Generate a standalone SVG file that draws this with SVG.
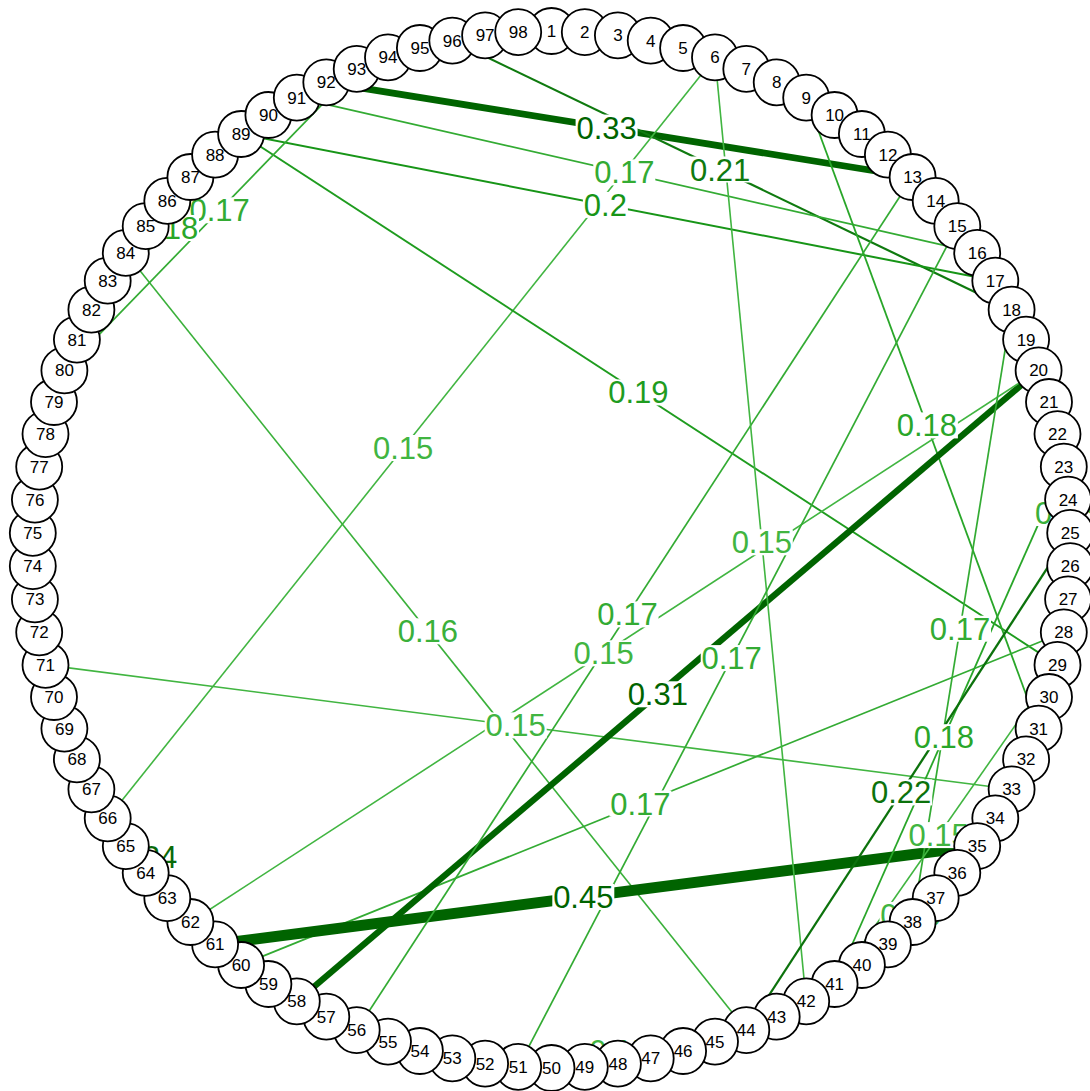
<svg xmlns="http://www.w3.org/2000/svg" width="1090" height="1091" viewBox="0 0 1090 1091">
<style>
.bg{fill:#fff}
#edges line{fill:none;stroke-linecap:butt}
.w15{stroke:#41b541;stroke-width:1.6}
.w16{stroke:#3ab03a;stroke-width:1.6}
.w17{stroke:#33ab33;stroke-width:1.7}
.w18{stroke:#29a629;stroke-width:1.8}
.w19{stroke:#1f9c1f;stroke-width:1.9}
.w20{stroke:#179517;stroke-width:2}
.w21{stroke:#0f7a0f;stroke-width:2.2}
.w22{stroke:#0c720c;stroke-width:2.3}
.w24{stroke:#0a6a0a;stroke-width:2.5}
.w31{stroke:#006400;stroke-width:6.3}
.w33{stroke:#006400;stroke-width:6.8}
.w45{stroke:#006400;stroke-width:11}
.lbl rect{fill:#fff}
.lbl text{font-family:"Liberation Sans",Arial,Helvetica,sans-serif;font-size:31px;text-anchor:middle}
.t15{fill:#41b541}.t16{fill:#3ab03a}.t17{fill:#33ab33}.t18{fill:#29a629}.t19{fill:#1f9c1f}.t20{fill:#179517}.t21{fill:#0f7a0f}.t22{fill:#0c720c}.t24{fill:#0a6a0a}.t31{fill:#006400}
.node circle{fill:#fff;stroke:#000;stroke-width:1.8}
.node text{font-family:"Liberation Sans",Arial,Helvetica,sans-serif;font-size:17px;text-anchor:middle;fill:#000}
</style>
<rect class="bg" x="0" y="0" width="1090" height="1091"/>
<g id="edges">
<line class="w33" x1="326.3" y1="82.3" x2="912.6" y2="177.0"/>
<line class="w21" x1="452.3" y1="40.6" x2="1011.6" y2="309.7"/>
<line class="w17" x1="296.8" y1="97.7" x2="977.2" y2="252.9"/>
<line class="w20" x1="241.1" y1="134.0" x2="995.3" y2="280.7"/>
<line class="w15" x1="715.0" y1="57.4" x2="107.7" y2="818.3"/>
<line class="w19" x1="241.1" y1="134.0" x2="1057.5" y2="664.9"/>
<line class="w18" x1="806.2" y1="97.7" x2="1038.6" y2="728.6"/>
<line class="w16" x1="125.8" y1="252.9" x2="746.3" y2="1030.1"/>
<line class="w15" x1="45.5" y1="664.9" x2="1011.6" y2="789.3"/>
<line class="w17" x1="241.1" y1="965.0" x2="1063.8" y2="632.3"/>
<line class="w45" x1="215.1" y1="944.3" x2="977.2" y2="846.1"/>
<line class="w31" x1="296.8" y1="1001.3" x2="1038.6" y2="370.4"/>
<line class="w15" x1="190.4" y1="922.0" x2="1038.6" y2="370.4"/>
<line class="w17" x1="912.6" y1="177.0" x2="356.7" y2="1030.1"/>
<line class="w15" x1="715.0" y1="57.4" x2="806.2" y2="1001.3"/>
<line class="w17" x1="957.3" y1="226.2" x2="518.2" y2="1066.9"/>
<line class="w17" x1="1011.6" y1="309.7" x2="912.6" y2="922.0"/>
<line class="w18" x1="1063.8" y1="466.7" x2="834.6" y2="984.0"/>
<line class="w22" x1="746.3" y1="1030.1" x2="1070.2" y2="532.9"/>
<line class="w15" x1="1057.5" y1="664.9" x2="834.6" y2="984.0"/>
<line class="w17" x1="356.7" y1="68.9" x2="64.4" y2="370.4"/>
<line class="w18" x1="76.9" y1="339.6" x2="241.1" y2="134.0"/>
<line class="w24" x1="215.1" y1="944.3" x2="91.4" y2="789.3"/>
<line class="w15" x1="977.2" y1="846.1" x2="861.9" y2="965.0"/>
<line class="w16" x1="1057.5" y1="434.1" x2="1070.2" y2="566.1"/>
<line class="w15" x1="746.3" y1="1030.1" x2="518.2" y2="1066.9"/>
</g>
<g id="edge-labels">
<g class="lbl"><rect x="575.6" y="114.6" width="62" height="26"/><text class="t31" x="606.6" y="138.6">0.33</text></g>
<g class="lbl"><rect x="689.2" y="156.5" width="62" height="26"/><text class="t21" x="720.2" y="180.5">0.21</text></g>
<g class="lbl"><rect x="593.3" y="159.4" width="62" height="26"/><text class="t17" x="624.3" y="183.4">0.17</text></g>
<g class="lbl"><rect x="582.9" y="191.9" width="45" height="26"/><text class="t20" x="605.4" y="215.9">0.2</text></g>
<g class="lbl"><rect x="372.2" y="435.0" width="62" height="26"/><text class="t15" x="403.2" y="459.0">0.15</text></g>
<g class="lbl"><rect x="607.4" y="379.4" width="62" height="26"/><text class="t19" x="638.4" y="403.4">0.19</text></g>
<g class="lbl"><rect x="895.9" y="412.4" width="62" height="26"/><text class="t18" x="926.9" y="436.4">0.18</text></g>
<g class="lbl"><rect x="396.9" y="618.3" width="62" height="26"/><text class="t16" x="427.9" y="642.3">0.16</text></g>
<g class="lbl"><rect x="484.7" y="712.4" width="62" height="26"/><text class="t15" x="515.7" y="736.4">0.15</text></g>
<g class="lbl"><rect x="609.4" y="790.5" width="62" height="26"/><text class="t17" x="640.4" y="814.5">0.17</text></g>
<g class="lbl"><rect x="552.3" y="883.9" width="62" height="26"/><text class="t31" x="583.3" y="907.9">0.45</text></g>
<g class="lbl"><rect x="626.8" y="681.3" width="62" height="26"/><text class="t31" x="657.8" y="705.3">0.31</text></g>
<g class="lbl"><rect x="572.6" y="640.3" width="62" height="26"/><text class="t15" x="603.6" y="664.3">0.15</text></g>
<g class="lbl"><rect x="596.5" y="601.4" width="62" height="26"/><text class="t17" x="627.5" y="625.4">0.17</text></g>
<g class="lbl"><rect x="730.8" y="529.3" width="62" height="26"/><text class="t15" x="761.8" y="553.3">0.15</text></g>
<g class="lbl"><rect x="700.7" y="645.1" width="62" height="26"/><text class="t17" x="731.7" y="669.1">0.17</text></g>
<g class="lbl"><rect x="929.0" y="615.7" width="62" height="26"/><text class="t17" x="960.0" y="639.7">0.17</text></g>
<g class="lbl"><rect x="912.9" y="724.2" width="62" height="26"/><text class="t18" x="943.9" y="748.2">0.18</text></g>
<g class="lbl"><rect x="870.2" y="779.4" width="62" height="26"/><text class="t22" x="901.2" y="803.4">0.22</text></g>
<g class="lbl"><rect x="907.6" y="822.1" width="62" height="26"/><text class="t15" x="938.6" y="846.1">0.15</text></g>
<g class="lbl"><rect x="188.6" y="197.3" width="62" height="26"/><text class="t17" x="219.6" y="221.3">0.17</text></g>
<g class="lbl"><rect x="137.0" y="215.0" width="62" height="26"/><text class="t18" x="168.0" y="239.0">0.18</text></g>
<g class="lbl"><rect x="116.0" y="844.0" width="62" height="26"/><text class="t24" x="147.0" y="868.0">0.24</text></g>
<g class="lbl"><rect x="879.5" y="901.9" width="62" height="26"/><text class="t15" x="910.5" y="925.9">0.15</text></g>
<g class="lbl"><rect x="1034.1" y="500.0" width="62" height="26"/><text class="t16" x="1065.1" y="524.0">0.16</text></g>
<g class="lbl"><rect x="588.4" y="1037.6" width="62" height="26"/><text class="t15" x="619.4" y="1061.6">0.15</text></g>
</g>
<g id="nodes">
<g class="node" id="n1"><circle cx="551.5" cy="31.0" r="23"/><text x="551.5" y="37.0">1</text></g>
<g class="node" id="n2"><circle cx="584.8" cy="32.1" r="23"/><text x="584.8" y="38.1">2</text></g>
<g class="node" id="n3"><circle cx="617.9" cy="35.3" r="23"/><text x="617.9" y="41.3">3</text></g>
<g class="node" id="n4"><circle cx="650.7" cy="40.6" r="23"/><text x="650.7" y="46.6">4</text></g>
<g class="node" id="n5"><circle cx="683.1" cy="48.0" r="23"/><text x="683.1" y="54.0">5</text></g>
<g class="node" id="n6"><circle cx="715.0" cy="57.4" r="23"/><text x="715.0" y="63.4">6</text></g>
<g class="node" id="n7"><circle cx="746.3" cy="68.9" r="23"/><text x="746.3" y="74.9">7</text></g>
<g class="node" id="n8"><circle cx="776.7" cy="82.3" r="23"/><text x="776.7" y="88.3">8</text></g>
<g class="node" id="n9"><circle cx="806.2" cy="97.7" r="23"/><text x="806.2" y="103.7">9</text></g>
<g class="node" id="n10"><circle cx="834.6" cy="115.0" r="23"/><text x="834.6" y="121.0">10</text></g>
<g class="node" id="n11"><circle cx="861.9" cy="134.0" r="23"/><text x="861.9" y="140.0">11</text></g>
<g class="node" id="n12"><circle cx="887.9" cy="154.7" r="23"/><text x="887.9" y="160.7">12</text></g>
<g class="node" id="n13"><circle cx="912.6" cy="177.0" r="23"/><text x="912.6" y="183.0">13</text></g>
<g class="node" id="n14"><circle cx="935.7" cy="200.9" r="23"/><text x="935.7" y="206.9">14</text></g>
<g class="node" id="n15"><circle cx="957.3" cy="226.2" r="23"/><text x="957.3" y="232.2">15</text></g>
<g class="node" id="n16"><circle cx="977.2" cy="252.9" r="23"/><text x="977.2" y="258.9">16</text></g>
<g class="node" id="n17"><circle cx="995.3" cy="280.7" r="23"/><text x="995.3" y="286.7">17</text></g>
<g class="node" id="n18"><circle cx="1011.6" cy="309.7" r="23"/><text x="1011.6" y="315.7">18</text></g>
<g class="node" id="n19"><circle cx="1026.1" cy="339.6" r="23"/><text x="1026.1" y="345.6">19</text></g>
<g class="node" id="n20"><circle cx="1038.6" cy="370.4" r="23"/><text x="1038.6" y="376.4">20</text></g>
<g class="node" id="n21"><circle cx="1049.0" cy="402.0" r="23"/><text x="1049.0" y="408.0">21</text></g>
<g class="node" id="n22"><circle cx="1057.5" cy="434.1" r="23"/><text x="1057.5" y="440.1">22</text></g>
<g class="node" id="n23"><circle cx="1063.8" cy="466.7" r="23"/><text x="1063.8" y="472.7">23</text></g>
<g class="node" id="n24"><circle cx="1068.1" cy="499.7" r="23"/><text x="1068.1" y="505.7">24</text></g>
<g class="node" id="n25"><circle cx="1070.2" cy="532.9" r="23"/><text x="1070.2" y="538.9">25</text></g>
<g class="node" id="n26"><circle cx="1070.2" cy="566.1" r="23"/><text x="1070.2" y="572.1">26</text></g>
<g class="node" id="n27"><circle cx="1068.1" cy="599.3" r="23"/><text x="1068.1" y="605.3">27</text></g>
<g class="node" id="n28"><circle cx="1063.8" cy="632.3" r="23"/><text x="1063.8" y="638.3">28</text></g>
<g class="node" id="n29"><circle cx="1057.5" cy="664.9" r="23"/><text x="1057.5" y="670.9">29</text></g>
<g class="node" id="n30"><circle cx="1049.0" cy="697.0" r="23"/><text x="1049.0" y="703.0">30</text></g>
<g class="node" id="n31"><circle cx="1038.6" cy="728.6" r="23"/><text x="1038.6" y="734.6">31</text></g>
<g class="node" id="n32"><circle cx="1026.1" cy="759.4" r="23"/><text x="1026.1" y="765.4">32</text></g>
<g class="node" id="n33"><circle cx="1011.6" cy="789.3" r="23"/><text x="1011.6" y="795.3">33</text></g>
<g class="node" id="n34"><circle cx="995.3" cy="818.3" r="23"/><text x="995.3" y="824.3">34</text></g>
<g class="node" id="n35"><circle cx="977.2" cy="846.1" r="23"/><text x="977.2" y="852.1">35</text></g>
<g class="node" id="n36"><circle cx="957.3" cy="872.8" r="23"/><text x="957.3" y="878.8">36</text></g>
<g class="node" id="n37"><circle cx="935.7" cy="898.1" r="23"/><text x="935.7" y="904.1">37</text></g>
<g class="node" id="n38"><circle cx="912.6" cy="922.0" r="23"/><text x="912.6" y="928.0">38</text></g>
<g class="node" id="n39"><circle cx="887.9" cy="944.3" r="23"/><text x="887.9" y="950.3">39</text></g>
<g class="node" id="n40"><circle cx="861.9" cy="965.0" r="23"/><text x="861.9" y="971.0">40</text></g>
<g class="node" id="n41"><circle cx="834.6" cy="984.0" r="23"/><text x="834.6" y="990.0">41</text></g>
<g class="node" id="n42"><circle cx="806.2" cy="1001.3" r="23"/><text x="806.2" y="1007.3">42</text></g>
<g class="node" id="n43"><circle cx="776.7" cy="1016.7" r="23"/><text x="776.7" y="1022.7">43</text></g>
<g class="node" id="n44"><circle cx="746.3" cy="1030.1" r="23"/><text x="746.3" y="1036.1">44</text></g>
<g class="node" id="n45"><circle cx="715.0" cy="1041.6" r="23"/><text x="715.0" y="1047.6">45</text></g>
<g class="node" id="n46"><circle cx="683.1" cy="1051.0" r="23"/><text x="683.1" y="1057.0">46</text></g>
<g class="node" id="n47"><circle cx="650.7" cy="1058.4" r="23"/><text x="650.7" y="1064.4">47</text></g>
<g class="node" id="n48"><circle cx="617.9" cy="1063.7" r="23"/><text x="617.9" y="1069.7">48</text></g>
<g class="node" id="n49"><circle cx="584.8" cy="1066.9" r="23"/><text x="584.8" y="1072.9">49</text></g>
<g class="node" id="n50"><circle cx="551.5" cy="1068.0" r="23"/><text x="551.5" y="1074.0">50</text></g>
<g class="node" id="n51"><circle cx="518.2" cy="1066.9" r="23"/><text x="518.2" y="1072.9">51</text></g>
<g class="node" id="n52"><circle cx="485.1" cy="1063.7" r="23"/><text x="485.1" y="1069.7">52</text></g>
<g class="node" id="n53"><circle cx="452.3" cy="1058.4" r="23"/><text x="452.3" y="1064.4">53</text></g>
<g class="node" id="n54"><circle cx="419.9" cy="1051.0" r="23"/><text x="419.9" y="1057.0">54</text></g>
<g class="node" id="n55"><circle cx="388.0" cy="1041.6" r="23"/><text x="388.0" y="1047.6">55</text></g>
<g class="node" id="n56"><circle cx="356.7" cy="1030.1" r="23"/><text x="356.7" y="1036.1">56</text></g>
<g class="node" id="n57"><circle cx="326.3" cy="1016.7" r="23"/><text x="326.3" y="1022.7">57</text></g>
<g class="node" id="n58"><circle cx="296.8" cy="1001.3" r="23"/><text x="296.8" y="1007.3">58</text></g>
<g class="node" id="n59"><circle cx="268.4" cy="984.0" r="23"/><text x="268.4" y="990.0">59</text></g>
<g class="node" id="n60"><circle cx="241.1" cy="965.0" r="23"/><text x="241.1" y="971.0">60</text></g>
<g class="node" id="n61"><circle cx="215.1" cy="944.3" r="23"/><text x="215.1" y="950.3">61</text></g>
<g class="node" id="n62"><circle cx="190.4" cy="922.0" r="23"/><text x="190.4" y="928.0">62</text></g>
<g class="node" id="n63"><circle cx="167.3" cy="898.1" r="23"/><text x="167.3" y="904.1">63</text></g>
<g class="node" id="n64"><circle cx="145.7" cy="872.8" r="23"/><text x="145.7" y="878.8">64</text></g>
<g class="node" id="n65"><circle cx="125.8" cy="846.1" r="23"/><text x="125.8" y="852.1">65</text></g>
<g class="node" id="n66"><circle cx="107.7" cy="818.3" r="23"/><text x="107.7" y="824.3">66</text></g>
<g class="node" id="n67"><circle cx="91.4" cy="789.3" r="23"/><text x="91.4" y="795.3">67</text></g>
<g class="node" id="n68"><circle cx="76.9" cy="759.4" r="23"/><text x="76.9" y="765.4">68</text></g>
<g class="node" id="n69"><circle cx="64.4" cy="728.6" r="23"/><text x="64.4" y="734.6">69</text></g>
<g class="node" id="n70"><circle cx="54.0" cy="697.0" r="23"/><text x="54.0" y="703.0">70</text></g>
<g class="node" id="n71"><circle cx="45.5" cy="664.9" r="23"/><text x="45.5" y="670.9">71</text></g>
<g class="node" id="n72"><circle cx="39.2" cy="632.3" r="23"/><text x="39.2" y="638.3">72</text></g>
<g class="node" id="n73"><circle cx="34.9" cy="599.3" r="23"/><text x="34.9" y="605.3">73</text></g>
<g class="node" id="n74"><circle cx="32.8" cy="566.1" r="23"/><text x="32.8" y="572.1">74</text></g>
<g class="node" id="n75"><circle cx="32.8" cy="532.9" r="23"/><text x="32.8" y="538.9">75</text></g>
<g class="node" id="n76"><circle cx="34.9" cy="499.7" r="23"/><text x="34.9" y="505.7">76</text></g>
<g class="node" id="n77"><circle cx="39.2" cy="466.7" r="23"/><text x="39.2" y="472.7">77</text></g>
<g class="node" id="n78"><circle cx="45.5" cy="434.1" r="23"/><text x="45.5" y="440.1">78</text></g>
<g class="node" id="n79"><circle cx="54.0" cy="402.0" r="23"/><text x="54.0" y="408.0">79</text></g>
<g class="node" id="n80"><circle cx="64.4" cy="370.4" r="23"/><text x="64.4" y="376.4">80</text></g>
<g class="node" id="n81"><circle cx="76.9" cy="339.6" r="23"/><text x="76.9" y="345.6">81</text></g>
<g class="node" id="n82"><circle cx="91.4" cy="309.7" r="23"/><text x="91.4" y="315.7">82</text></g>
<g class="node" id="n83"><circle cx="107.7" cy="280.7" r="23"/><text x="107.7" y="286.7">83</text></g>
<g class="node" id="n84"><circle cx="125.8" cy="252.9" r="23"/><text x="125.8" y="258.9">84</text></g>
<g class="node" id="n85"><circle cx="145.7" cy="226.2" r="23"/><text x="145.7" y="232.2">85</text></g>
<g class="node" id="n86"><circle cx="167.3" cy="200.9" r="23"/><text x="167.3" y="206.9">86</text></g>
<g class="node" id="n87"><circle cx="190.4" cy="177.0" r="23"/><text x="190.4" y="183.0">87</text></g>
<g class="node" id="n88"><circle cx="215.1" cy="154.7" r="23"/><text x="215.1" y="160.7">88</text></g>
<g class="node" id="n89"><circle cx="241.1" cy="134.0" r="23"/><text x="241.1" y="140.0">89</text></g>
<g class="node" id="n90"><circle cx="268.4" cy="115.0" r="23"/><text x="268.4" y="121.0">90</text></g>
<g class="node" id="n91"><circle cx="296.8" cy="97.7" r="23"/><text x="296.8" y="103.7">91</text></g>
<g class="node" id="n92"><circle cx="326.3" cy="82.3" r="23"/><text x="326.3" y="88.3">92</text></g>
<g class="node" id="n93"><circle cx="356.7" cy="68.9" r="23"/><text x="356.7" y="74.9">93</text></g>
<g class="node" id="n94"><circle cx="388.0" cy="57.4" r="23"/><text x="388.0" y="63.4">94</text></g>
<g class="node" id="n95"><circle cx="419.9" cy="48.0" r="23"/><text x="419.9" y="54.0">95</text></g>
<g class="node" id="n96"><circle cx="452.3" cy="40.6" r="23"/><text x="452.3" y="46.6">96</text></g>
<g class="node" id="n97"><circle cx="485.1" cy="35.3" r="23"/><text x="485.1" y="41.3">97</text></g>
<g class="node" id="n98"><circle cx="518.2" cy="32.1" r="23"/><text x="518.2" y="38.1">98</text></g>
</g>
</svg>
